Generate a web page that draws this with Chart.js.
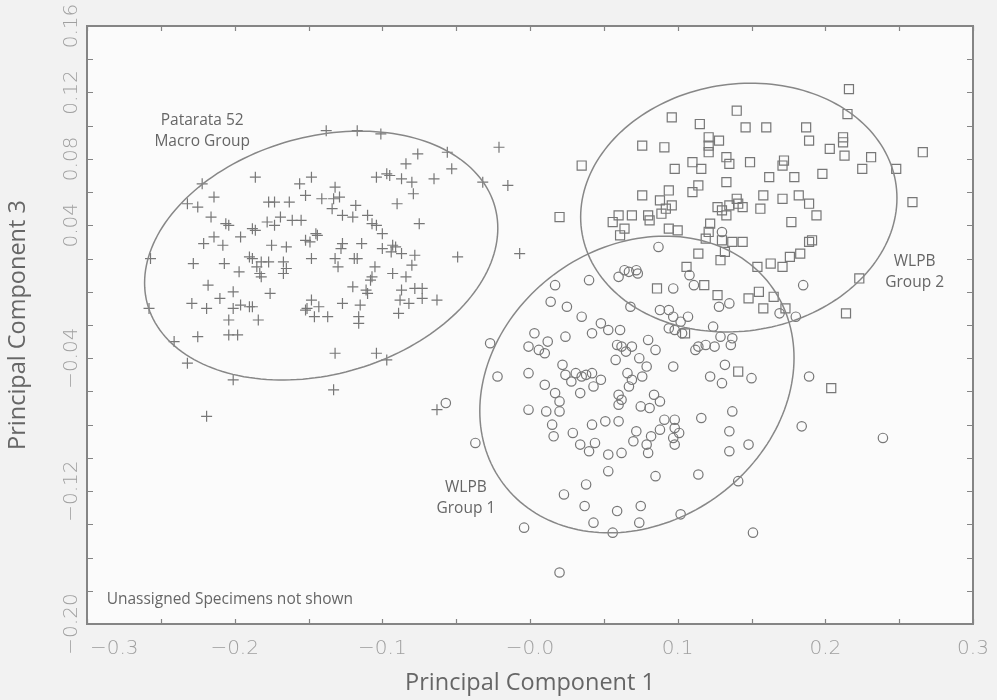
<!DOCTYPE html>
<html>
<head>
<meta charset="utf-8">
<script src="https://cdn.jsdelivr.net/npm/chart.js@4.4.1/dist/chart.umd.min.js"></script>
<style>
  html, body { margin: 0; padding: 0; background: #f2f2f2; }
  #pca { display: block; }
</style>
</head>
<body>
<canvas id="pca" width="997" height="700"></canvas>
<script>
// PC1 / PC3 scores, one [pc1, pc3] pair per specimen
const macroGroup = [
  [-0.138, 0.097], [-0.117, 0.097], [-0.101, 0.095], [-0.186, 0.069], [-0.222, 0.065],
  [-0.156, 0.065], [-0.148, 0.069], [-0.132, 0.063], [-0.104, 0.069], [-0.097, 0.071],
  [-0.214, 0.057], [-0.152, 0.058], [-0.232, 0.053], [-0.225, 0.051], [-0.177, 0.054],
  [-0.173, 0.054], [-0.163, 0.054], [-0.141, 0.056], [-0.133, 0.056], [-0.129, 0.057],
  [-0.134, 0.050], [-0.118, 0.052],
  [-0.076, 0.083], [-0.056, 0.084], [-0.021, 0.087], [-0.084, 0.077], [-0.053, 0.074],
  [-0.095, 0.070], [-0.087, 0.068], [-0.080, 0.066], [-0.065, 0.068], [-0.032, 0.066],
  [-0.015, 0.064], [-0.079, 0.059], [-0.090, 0.053],
  [-0.216, 0.045], [-0.206, 0.041], [-0.204, 0.040], [-0.188, 0.038], [-0.186, 0.037],
  [-0.178, 0.042], [-0.173, 0.040], [-0.169, 0.045], [-0.161, 0.043], [-0.155, 0.043],
  [-0.127, 0.046], [-0.120, 0.045], [-0.110, 0.046], [-0.107, 0.041], [-0.104, 0.040],
  [-0.100, 0.035], [-0.221, 0.029], [-0.214, 0.033], [-0.208, 0.028], [-0.196, 0.033],
  [-0.175, 0.028], [-0.165, 0.027], [-0.152, 0.031], [-0.149, 0.030], [-0.145, 0.035],
  [-0.144, 0.034], [-0.127, 0.029], [-0.128, 0.026], [-0.114, 0.029], [-0.100, 0.026],
  [-0.257, 0.020], [-0.228, 0.017], [-0.207, 0.017], [-0.190, 0.021], [-0.188, 0.020],
  [-0.182, 0.018], [-0.177, 0.018], [-0.185, 0.015], [-0.183, 0.011], [-0.182, 0.009],
  [-0.197, 0.012], [-0.167, 0.018], [-0.165, 0.014], [-0.167, 0.011], [-0.148, 0.020],
  [-0.132, 0.020], [-0.130, 0.015], [-0.119, 0.020], [-0.117, 0.020], [-0.105, 0.015],
  [-0.107, 0.009], [-0.108, 0.007], [-0.111, 0.001], [-0.110, -0.001], [-0.120, 0.003],
  [-0.218, 0.004], [-0.201, 0.000], [-0.176, -0.001], [-0.210, -0.004], [-0.229, -0.007],
  [-0.219, -0.010], [-0.201, -0.010], [-0.196, -0.008], [-0.190, -0.009], [-0.188, -0.009],
  [-0.204, -0.017], [-0.184, -0.017], [-0.258, -0.010], [-0.148, -0.005], [-0.152, -0.011],
  [-0.151, -0.010], [-0.143, -0.009], [-0.146, -0.015], [-0.137, -0.015], [-0.127, -0.007],
  [-0.115, -0.008], [-0.116, -0.015], [-0.116, -0.019], [-0.225, -0.027], [-0.204, -0.026],
  [-0.198, -0.026], [-0.241, -0.030], [-0.232, -0.043], [-0.201, -0.053], [-0.132, -0.037],
  [-0.104, -0.037], [-0.097, -0.041], [-0.133, -0.059], [-0.219, -0.075],
  [-0.075, 0.041], [-0.093, 0.028], [-0.091, 0.027], [-0.094, 0.024], [-0.087, 0.023],
  [-0.078, 0.022], [-0.049, 0.021], [-0.007, 0.023], [-0.080, 0.016], [-0.093, 0.011],
  [-0.084, 0.009], [-0.087, 0.001], [-0.078, 0.002], [-0.073, 0.002], [-0.088, -0.005],
  [-0.082, -0.007], [-0.073, -0.004], [-0.063, -0.005], [-0.089, -0.013], [-0.063, -0.071]
];

const wlpbGroup1 = [
  [-0.057, -0.067], [-0.027, -0.031], [-0.022, -0.051], [-0.001, -0.049], [-0.001, -0.071],
  [0.011, -0.072], [0.020, -0.072], [0.017, 0.004], [0.040, 0.007], [0.014, -0.006],
  [0.025, -0.009], [0.035, -0.015], [0.087, 0.027], [0.060, 0.009], [0.064, 0.013],
  [0.067, 0.012], [0.072, 0.013], [0.073, 0.011], [0.097, 0.002], [0.068, -0.009],
  [0.088, -0.011], [0.094, -0.011], [0.097, -0.015], [0.102, -0.018], [0.094, -0.022],
  [0.098, -0.023], [0.103, -0.025], [0.048, -0.019], [0.053, -0.023], [0.061, -0.023],
  [0.042, -0.025], [0.003, -0.025], [0.012, -0.030], [0.024, -0.027], [-0.001, -0.033],
  [0.006, -0.035], [0.010, -0.037], [0.059, -0.032], [0.062, -0.033], [0.069, -0.033],
  [0.065, -0.036], [0.080, -0.029], [0.085, -0.035], [0.058, -0.041], [0.074, -0.040],
  [0.097, -0.045], [0.022, -0.044], [0.024, -0.050], [0.031, -0.049], [0.028, -0.054],
  [0.035, -0.051], [0.038, -0.050], [0.042, -0.049], [0.048, -0.053], [0.043, -0.057],
  [0.034, -0.061], [0.066, -0.049], [0.079, -0.045], [0.076, -0.051], [0.069, -0.053],
  [0.067, -0.057], [0.010, -0.056], [0.017, -0.061], [0.020, -0.066], [0.060, -0.062],
  [0.062, -0.065], [0.060, -0.068], [0.075, -0.069], [0.081, -0.070], [0.084, -0.062],
  [0.088, -0.066],
  [0.130, 0.036], [0.185, 0.004], [0.108, 0.010], [0.111, 0.004], [0.128, -0.009],
  [0.135, -0.007], [0.169, -0.013], [0.180, -0.015], [0.107, -0.015], [0.124, -0.021],
  [0.129, -0.027], [0.137, -0.028], [0.136, -0.032], [0.119, -0.032], [0.125, -0.033],
  [0.114, -0.033], [0.112, -0.035], [0.132, -0.044], [0.122, -0.051], [0.130, -0.055],
  [0.150, -0.052], [0.189, -0.051], [0.137, -0.072],
  [-0.037, -0.091], [0.015, -0.080], [0.016, -0.087], [0.029, -0.085], [0.034, -0.092],
  [0.040, -0.096], [0.044, -0.091], [0.042, -0.080], [0.051, -0.078], [0.060, -0.078],
  [0.053, -0.098], [0.062, -0.097], [0.053, -0.108], [0.038, -0.116], [0.023, -0.122],
  [0.037, -0.129], [0.059, -0.132], [0.075, -0.129], [0.043, -0.139], [0.074, -0.139],
  [0.056, -0.145], [0.102, -0.134], [-0.004, -0.142], [0.020, -0.169], [0.085, -0.111],
  [0.070, -0.090], [0.072, -0.084], [0.079, -0.092], [0.080, -0.097], [0.082, -0.087],
  [0.088, -0.083], [0.091, -0.077], [0.098, -0.077], [0.098, -0.082], [0.101, -0.085],
  [0.097, -0.088], [0.098, -0.092],
  [0.116, -0.076], [0.135, -0.084], [0.135, -0.096], [0.148, -0.092], [0.184, -0.081],
  [0.239, -0.088], [0.114, -0.110], [0.141, -0.114], [0.151, -0.145]
];

const wlpbGroup2 = [
  [0.096, 0.105], [0.076, 0.088], [0.091, 0.087], [0.098, 0.074], [0.035, 0.076],
  [0.094, 0.061], [0.076, 0.058], [0.088, 0.055], [0.096, 0.052], [0.092, 0.050],
  [0.216, 0.122], [0.140, 0.109], [0.215, 0.107], [0.115, 0.101], [0.146, 0.099],
  [0.160, 0.099], [0.187, 0.099], [0.121, 0.093], [0.128, 0.091], [0.189, 0.091],
  [0.212, 0.093], [0.212, 0.090], [0.121, 0.088], [0.121, 0.084], [0.203, 0.086],
  [0.266, 0.084], [0.133, 0.081], [0.213, 0.082], [0.231, 0.081], [0.110, 0.078],
  [0.116, 0.074], [0.135, 0.077], [0.149, 0.078], [0.172, 0.079], [0.171, 0.076],
  [0.225, 0.074], [0.248, 0.074], [0.198, 0.071], [0.162, 0.069], [0.179, 0.069],
  [0.133, 0.066], [0.114, 0.064], [0.110, 0.060], [0.140, 0.056], [0.141, 0.053],
  [0.158, 0.058], [0.171, 0.056], [0.182, 0.058], [0.189, 0.053], [0.259, 0.054],
  [0.127, 0.051], [0.135, 0.052], [0.144, 0.051], [0.156, 0.050], [0.130, 0.049],
  [0.020, 0.045], [0.056, 0.042], [0.060, 0.046], [0.069, 0.046], [0.080, 0.046],
  [0.081, 0.043], [0.089, 0.047], [0.094, 0.038], [0.100, 0.037], [0.064, 0.038],
  [0.061, 0.034], [0.086, 0.002],
  [0.133, 0.046], [0.194, 0.046], [0.177, 0.042], [0.122, 0.041], [0.121, 0.036],
  [0.119, 0.032], [0.130, 0.031], [0.137, 0.030], [0.144, 0.030], [0.132, 0.024],
  [0.129, 0.019], [0.189, 0.030], [0.191, 0.031], [0.114, 0.023], [0.183, 0.023],
  [0.176, 0.021], [0.106, 0.015], [0.154, 0.015], [0.163, 0.017], [0.171, 0.015],
  [0.118, 0.004], [0.127, -0.002], [0.148, -0.004], [0.155, 0.000], [0.165, -0.003],
  [0.158, -0.010], [0.173, -0.010], [0.223, 0.008], [0.214, -0.013], [0.105, -0.025],
  [0.141, -0.048], [0.204, -0.058]
];

// confidence ellipses: centre, half-extent along each axis, tilt phase
const ellipseCX = [-0.1414, 0.0724, 0.1414];
const ellipseCY = [0.0218, -0.0558, 0.0507];
const ellipseRX = [0.1196, 0.1064, 0.1071];
const ellipseRY = [0.0749, 0.0893, 0.0749];
const ellipseTilt = [0.222, 0.18, 0.076];

const xTickValues = [-0.3, -0.2, -0.1, 0.0, 0.1, 0.2, 0.3];
const xTickLabels = ['\u22120.3', '\u22120.2', '\u22120.1', '\u22120.0', '0.1', '0.2', '0.3'];
const yTickValues = [0.16, 0.12, 0.08, 0.04, -0.04, -0.12, -0.20];
const yTickLabels = ['0.16', '0.12', '0.08', '0.04', '\u22120.04', '\u22120.12', '\u22120.20'];

// group captions placed in data units
const notes = [
  { lines: ['Patarata 52', 'Macro Group'], x: -0.222, y: [0.1033, 0.0902], align: 'center' },
  { lines: ['WLPB', 'Group 2'], x: 0.2605, y: [0.0179, 0.0058], align: 'center' },
  { lines: ['WLPB', 'Group 1'], x: -0.0434, y: [-0.118, -0.1306], align: 'center' },
  { lines: ['Unassigned Specimens not shown'], x: -0.2867, y: [-0.1854], align: 'left' }
];

const toPoints = (pairs) => pairs.map(([x, y]) => ({ x, y }));
const markColor = '#777777';
const lineColor = '#878787';

const framePlugin = {
  id: 'frame',
  beforeDraw(chart) {
    const { ctx, chartArea: a } = chart;
    ctx.save();
    ctx.fillStyle = '#f2f2f2';
    ctx.fillRect(0, 0, chart.width, chart.height);
    ctx.fillStyle = '#fbfbfb';
    ctx.fillRect(a.left, a.top, a.right - a.left, a.bottom - a.top);
    ctx.restore();
  },
  afterDatasetsDraw(chart) {
    const { ctx, chartArea: a, scales: { x, y } } = chart;
    ctx.save();

    // ellipses
    ctx.strokeStyle = lineColor;
    ctx.lineWidth = 1.5;
    ctx.beginPath();
    ctx.rect(a.left, a.top, a.right - a.left, a.bottom - a.top);
    ctx.clip();
    for (let k = 0; k < ellipseCX.length; k++) {
      ctx.beginPath();
      for (let i = 0; i <= 180; i++) {
        const t = (i / 180) * Math.PI * 2;
        const px = x.getPixelForValue(ellipseCX[k] + ellipseRX[k] * Math.cos(t));
        const py = y.getPixelForValue(ellipseCY[k] + ellipseRY[k] * Math.sin(t + ellipseTilt[k]));
        if (i === 0) ctx.moveTo(px, py); else ctx.lineTo(px, py);
      }
      ctx.closePath();
      ctx.stroke();
    }
    ctx.restore();

    ctx.save();
    // inward tick marks on all four sides
    ctx.strokeStyle = '#858585';
    ctx.lineWidth = 1.2;
    ctx.beginPath();
    x.ticks.forEach((t) => {
      const px = Math.round(x.getPixelForValue(t.value)) + 0.5;
      ctx.moveTo(px, a.bottom); ctx.lineTo(px, a.bottom - 5);
      ctx.moveTo(px, a.top); ctx.lineTo(px, a.top + 5);
    });
    y.ticks.forEach((t) => {
      const py = Math.round(y.getPixelForValue(t.value)) + 0.5;
      ctx.moveTo(a.left, py); ctx.lineTo(a.left + 6, py);
      ctx.moveTo(a.right, py); ctx.lineTo(a.right - 6, py);
    });
    ctx.stroke();

    // frame
    ctx.lineWidth = 2;
    ctx.strokeRect(a.left, a.top, a.right - a.left, a.bottom - a.top);

    // tick labels
    ctx.fillStyle = '#a0a0a0';
    ctx.font = '200 20px "DejaVu Sans"';
    ctx.textBaseline = 'alphabetic';
    xTickValues.forEach((v, i) => {
      const px = x.getPixelForValue(v);
      if (i === 0) {
        ctx.textAlign = 'left';
        ctx.fillText(xTickLabels[i], a.left + 3, a.bottom + 30);
      } else {
        ctx.textAlign = 'center';
        ctx.fillText(xTickLabels[i], px, a.bottom + 30);
      }
    });
    yTickValues.forEach((v, i) => {
      const py = y.getPixelForValue(v);
      ctx.save();
      ctx.translate(a.left - 10, py);
      ctx.rotate(-Math.PI / 2);
      ctx.textAlign = 'center';
      ctx.fillText(yTickLabels[i], 0, 0);
      ctx.restore();
    });

    // captions
    ctx.fillStyle = '#666666';
    ctx.font = '15.5px "Open Sans"';
    ctx.textBaseline = 'middle';
    notes.forEach((n) => {
      ctx.textAlign = n.align;
      n.lines.forEach((line, j) => {
        ctx.fillText(line, x.getPixelForValue(n.x), y.getPixelForValue(n.y[j]));
      });
    });
    ctx.restore();
  }
};

const pointBase = {
  borderColor: markColor,
  backgroundColor: 'rgba(0,0,0,0)',
  pointBorderWidth: 1.2,
  pointHoverRadius: 5
};

new Chart(document.getElementById('pca'), {
  type: 'scatter',
  data: {
    datasets: [
      { ...pointBase, label: 'Patarata 52 Macro Group', data: toPoints(macroGroup), pointStyle: 'cross', pointRadius: 5.5 },
      { ...pointBase, label: 'WLPB Group 1', data: toPoints(wlpbGroup1), pointStyle: 'circle', pointRadius: 4.7 },
      { ...pointBase, label: 'WLPB Group 2', data: toPoints(wlpbGroup2), pointStyle: 'rect', pointRadius: 6.4 }
    ]
  },
  options: {
    responsive: false,
    animation: false,
    layout: { padding: { top: 26, right: 24, left: 0, bottom: 0 } },
    plugins: { legend: { display: false }, tooltip: { enabled: false } },
    scales: {
      x: {
        type: 'linear',
        min: -0.3,
        max: 0.3,
        ticks: { display: false, stepSize: 0.05 },
        grid: { display: false },
        border: { display: false },
        title: {
          display: true,
          text: 'Principal Component 1',
          color: '#666666',
          font: { family: 'Open Sans', size: 23.5 },
          padding: { top: 0, bottom: 3 }
        },
        afterFit(scale) { scale.height = 76; }
      },
      y: {
        type: 'linear',
        min: -0.2,
        max: 0.16,
        ticks: { display: false, stepSize: 0.02 },
        grid: { display: false },
        border: { display: false },
        title: {
          display: true,
          text: 'Principal Component 3',
          color: '#666666',
          font: { family: 'Open Sans', size: 23.5 },
          padding: { top: 4, bottom: 0 }
        },
        afterFit(scale) { scale.width = 87; }
      }
    }
  },
  plugins: [framePlugin]
});
</script>
</body>
</html>
